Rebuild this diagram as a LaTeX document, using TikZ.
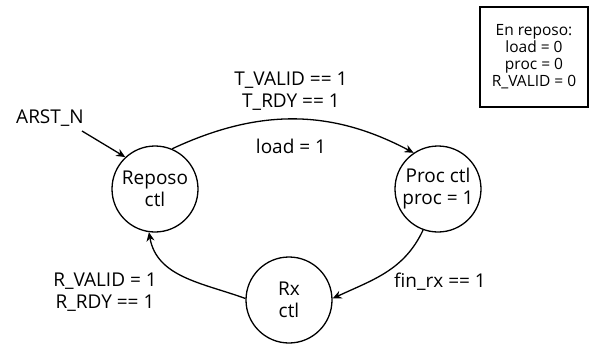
\documentclass[tikz,border=0pt]{standalone}
\usepackage{fontspec}
\setmainfont{Open Sans}
\usetikzlibrary{arrows.meta}
\begin{document}
\begin{tikzpicture}[x=1pt,y=-1pt,
  state/.style={circle,draw,line width=1.3pt,minimum size=86pt,inner sep=0pt,align=center,font=\fontsize{19}{22}\selectfont},
  lbl/.style={align=center,font=\fontsize{19}{22}\selectfont},
  note/.style={draw,line width=1.3pt,align=center,font=\fontsize{15.5}{17}\selectfont},
  trans/.style={line width=1.3pt,-{Stealth[length=9pt,width=8pt]}}]
\useasboundingbox (0,0) rectangle (591,345);
% states
\node[state] (rep)  at (155,189) {Reposo\\ctl};
\node[state] (proc) at (438,189) {Proc ctl\\proc = 1};
\node[state] (rx)   at (289,300) {Rx\\ctl};
% idle outputs
\node[note,minimum width=108pt,minimum height=100pt] (idle) at (534,57) {En reposo:\\load = 0\\proc = 0\\R\_VALID = 0};
% reset input
\node[lbl] (rst) at (50,118) {ARST\_N};
\coordinate (rstend) at (82,131);
\draw[trans] (rstend) -- (rep.133);
% transitions
\draw[trans] (rep.67) to[out=25,in=152] (proc.124);
\draw[trans] (proc.-110) to[out=-115,in=25] (rx.2);
\draw[trans] (rx.178) to[out=160,in=-80] (rep.-98);
% transition labels
\node[lbl] (tlbl) at (291,91) {T\_VALID == 1\\T\_RDY == 1};
\node[lbl] (llbl) at (291,146) {load = 1};
\node[lbl] (flbl) at (440,282) {fin\_rx == 1};
\node[lbl] (rlbl) at (105,292) {R\_VALID = 1\\R\_RDY == 1};
\end{tikzpicture}
\end{document}
